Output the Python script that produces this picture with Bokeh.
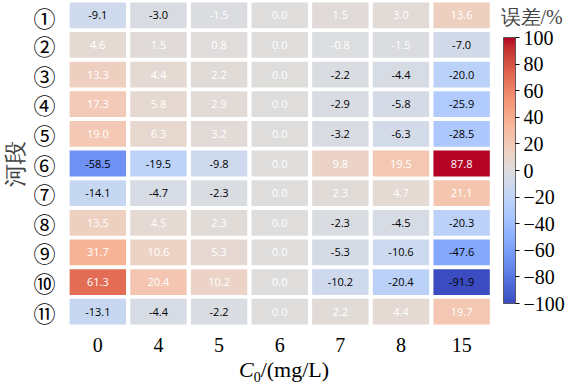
import numpy as np
from bokeh.plotting import figure
from bokeh.layouts import column
from bokeh.models import (ColumnDataSource, LinearColorMapper, ColorBar, FixedTicker, Label,
                          Range1d, Div)
from bokeh.embed import file_html
from bokeh.resources import INLINE
from bokeh.core.properties import value

concs = ["0", "4", "5", "6", "7", "8", "15"]
segments = ["①", "②", "③", "④", "⑤", "⑥", "⑦", "⑧", "⑨", "⑩", "⑪"]
seg01 = [-9.1, -3.0, -1.5, 0.0, 1.5, 3.0, 13.6]
seg02 = [4.6, 1.5, 0.8, 0.0, -0.8, -1.5, -7.0]
seg03 = [13.3, 4.4, 2.2, 0.0, -2.2, -4.4, -20.0]
seg04 = [17.3, 5.8, 2.9, 0.0, -2.9, -5.8, -25.9]
seg05 = [19.0, 6.3, 3.2, 0.0, -3.2, -6.3, -28.5]
seg06 = [-58.5, -19.5, -9.8, 0.0, 9.8, 19.5, 87.8]
seg07 = [-14.1, -4.7, -2.3, 0.0, 2.3, 4.7, 21.1]
seg08 = [13.5, 4.5, 2.3, 0.0, -2.3, -4.5, -20.3]
seg09 = [31.7, 10.6, 5.3, 0.0, -5.3, -10.6, -47.6]
seg10 = [61.3, 20.4, 10.2, 0.0, -10.2, -20.4, -91.9]
seg11 = [-13.1, -4.4, -2.2, 0.0, 2.2, 4.4, 19.7]
rows = [seg01, seg02, seg03, seg04, seg05, seg06, seg07, seg08, seg09, seg10, seg11]
cbar_ticks = [-100, -80, -60, -40, -20, 0, 20, 40, 60, 80, 100]
cbar_title = "误差/%"

# coolwarm anchor colours (Moreland diverging map)
cw = [(59,76,192),(68,90,204),(77,104,215),(87,117,225),(98,130,234),(108,142,241),
      (119,154,247),(130,165,251),(141,176,254),(152,185,255),(163,194,255),(174,201,253),
      (184,208,249),(194,213,244),(204,217,238),(213,219,230),(221,221,221),(229,216,209),
      (236,211,197),(241,204,185),(245,196,173),(247,187,160),(247,177,148),(247,166,135),
      (244,154,123),(241,141,111),(236,127,99),(229,112,88),(222,96,77),(213,80,66),
      (203,62,56),(192,40,47),(180,4,38)]
cw = np.array(cw, dtype=float)
anc = np.linspace(0, 1, len(cw))
tt = np.linspace(0, 1, 256)
palette = ["#%02x%02x%02x" % tuple(int(round(np.interp(t, anc, cw[:, k]))) for k in range(3)) for t in tt]

xs, ys, vs, labels, tcolors = [], [], [], [], []
for j, row in enumerate(rows):
    for i, v in enumerate(row):
        xs.append(i + 0.5); ys.append(j + 0.5); vs.append(v)
        labels.append("%.1f" % v)
        tcolors.append("black" if v <= -2 else "white")
src = ColumnDataSource(dict(x=xs, y=ys, v=vs, label=labels, tc=tcolors))

cell_mapper = LinearColorMapper(palette=palette, low=-88, high=88)
bar_mapper = LinearColorMapper(palette=palette, low=-100, high=100)

FRAME_W = 565 - 64
COL_W = 61.0
p = figure(width=565, height=354,
           x_range=Range1d(0, FRAME_W / COL_W), y_range=Range1d(len(segments), 0),
           output_backend="svg", toolbar_location=None,
           min_border_left=64, min_border_top=0, min_border_bottom=20, min_border_right=0)
p.rect(x="x", y="y", width=0.93, height=0.87, source=src,
       fill_color={"field": "v", "transform": cell_mapper}, line_color=None)
p.text(x="x", y="y", text="label", text_color="tc", source=src,
       text_align="center", text_baseline="middle",
       text_font=value("Open Sans"), text_font_size="11px")

p.outline_line_color = None
p.grid.grid_line_color = None
for ax in (p.xaxis[0], p.yaxis[0]):
    ax.axis_line_color = None
    ax.major_tick_line_color = None
    ax.minor_tick_line_color = None
    ax.major_label_text_color = "black"
xt = [i + 0.5 for i in range(len(concs))]
p.xaxis.ticker = FixedTicker(ticks=xt)
p.xaxis.major_label_overrides = {t: c for t, c in zip(xt, concs)}
p.xaxis.major_label_text_font = "Liberation Serif"
p.xaxis.major_label_text_font_size = "20px"
p.xaxis.major_label_standoff = 5
yt = [j + 0.5 for j in range(len(segments))]
p.yaxis.ticker = FixedTicker(ticks=yt)
p.yaxis.major_label_overrides = {t: s for t, s in zip(yt, segments)}
p.yaxis.major_label_text_font = "Noto Sans CJK SC"
p.yaxis.major_label_text_font_size = "22px"
p.yaxis.major_label_standoff = 6
p.yaxis.axis_label = "河段"
p.yaxis.axis_label_text_font = "serif"
p.yaxis.axis_label_text_font_style = "normal"
p.yaxis.axis_label_text_font_size = "23px"
p.yaxis.axis_label_standoff = 2

cb = ColorBar(color_mapper=bar_mapper, width=12, height=266,
              ticker=FixedTicker(ticks=cbar_ticks),
              major_label_overrides={t: str(t).replace("-", "\u2212") for t in cbar_ticks},
              major_label_text_font="Liberation Serif", major_label_text_font_size="20px",
              major_label_text_color="black", label_standoff=4,
              major_tick_out=4, major_tick_in=0, major_tick_line_color="black",
              bar_line_color="#444444", bar_line_width=0.8,
              padding=0, margin=0, location=(436, 23), background_fill_alpha=0,
              border_line_color=None)
p.add_layout(cb)

p.add_layout(Label(x=433, y=310, x_units="screen", y_units="screen",
                   text=cbar_title, text_font="serif",
                   text_font_size="20px", text_baseline="middle", text_align="left"))

xtitle = Div(text='<div style="width:558px;text-align:center;font-family:\'Liberation Serif\',serif;'
                  'font-size:22px;line-height:22px;color:black;white-space:nowrap;">'
                  '<i>C</i><sub style="font-size:14px;line-height:0;">0</sub>/(mg/L)</div>',
             width=565, height=17)

layout = column(p, xtitle, spacing=0)
open("out.html", "w").write(file_html(layout, INLINE))
